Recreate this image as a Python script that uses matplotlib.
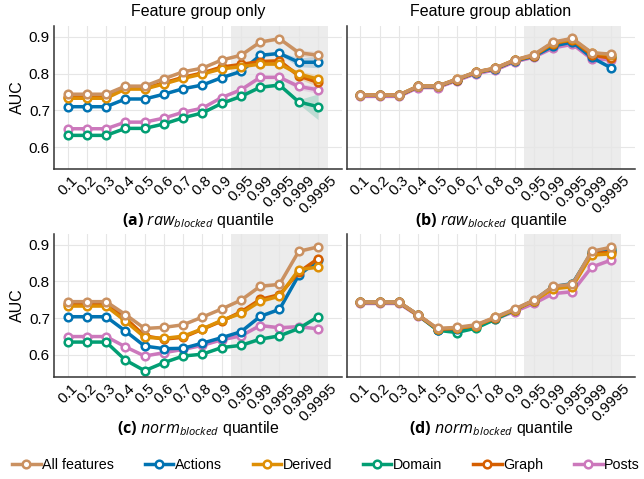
import numpy as np
import matplotlib
matplotlib.use("Agg")
import matplotlib.pyplot as plt

plt.rcParams['font.family'] = ['Liberation Sans', 'DejaVu Sans']
plt.rcParams['mathtext.fontset'] = 'custom'
plt.rcParams['mathtext.rm'] = 'Open Sans'
plt.rcParams['mathtext.it'] = 'Open Sans:italic'
plt.rcParams['mathtext.bf'] = 'Open Sans:bold'

quantiles = ["0.1", "0.2", "0.3", "0.4", "0.5", "0.6", "0.7", "0.8", "0.9",
             "0.95", "0.99", "0.995", "0.999", "0.9995"]
groups = ["All features", "Actions", "Derived", "Domain", "Graph", "Posts"]
colors = ["#ca9161", "#0173b2", "#de8f05", "#029e73", "#d55e00", "#cc78bc"]

# (a) raw, feature group only
raw_only_all = [0.744, 0.744, 0.744, 0.766, 0.766, 0.786, 0.805, 0.815, 0.837, 0.850, 0.886, 0.895, 0.857, 0.850]
raw_only_actions = [0.710, 0.710, 0.710, 0.731, 0.731, 0.744, 0.759, 0.769, 0.789, 0.806, 0.850, 0.855, 0.831, 0.831]
raw_only_derived = [0.733, 0.733, 0.733, 0.758, 0.758, 0.772, 0.787, 0.799, 0.813, 0.819, 0.826, 0.826, 0.799, 0.785]
raw_only_domain = [0.632, 0.632, 0.632, 0.651, 0.651, 0.663, 0.680, 0.693, 0.719, 0.738, 0.763, 0.769, 0.723, 0.710]
raw_only_graph = [0.736, 0.736, 0.736, 0.760, 0.760, 0.775, 0.790, 0.802, 0.818, 0.825, 0.833, 0.835, 0.794, 0.776]
raw_only_posts = [0.650, 0.650, 0.650, 0.668, 0.668, 0.679, 0.695, 0.706, 0.735, 0.756, 0.790, 0.790, 0.765, 0.756]

# (b) raw, feature group ablation
raw_abl_all = [0.742, 0.742, 0.742, 0.766, 0.766, 0.785, 0.805, 0.815, 0.837, 0.852, 0.886, 0.896, 0.857, 0.853]
raw_abl_actions = [0.741, 0.741, 0.741, 0.765, 0.765, 0.784, 0.803, 0.813, 0.835, 0.847, 0.875, 0.886, 0.844, 0.816]
raw_abl_derived = [0.742, 0.742, 0.742, 0.766, 0.766, 0.785, 0.804, 0.815, 0.837, 0.850, 0.884, 0.893, 0.856, 0.852]
raw_abl_domain = [0.741, 0.741, 0.741, 0.765, 0.765, 0.784, 0.804, 0.814, 0.836, 0.849, 0.882, 0.891, 0.853, 0.845]
raw_abl_graph = [0.741, 0.741, 0.741, 0.765, 0.765, 0.784, 0.804, 0.814, 0.836, 0.849, 0.882, 0.892, 0.851, 0.842]
raw_abl_posts = [0.738, 0.738, 0.738, 0.762, 0.762, 0.781, 0.800, 0.810, 0.832, 0.845, 0.870, 0.880, 0.840, 0.838]

# (c) norm, feature group only
norm_only_all = [0.745, 0.745, 0.745, 0.710, 0.672, 0.675, 0.682, 0.703, 0.725, 0.749, 0.787, 0.792, 0.882, 0.894]
norm_only_actions = [0.704, 0.704, 0.704, 0.665, 0.624, 0.617, 0.618, 0.632, 0.647, 0.663, 0.705, 0.724, 0.817, 0.857]
norm_only_derived = [0.733, 0.733, 0.733, 0.692, 0.648, 0.645, 0.651, 0.671, 0.694, 0.713, 0.746, 0.760, 0.832, 0.839]
norm_only_domain = [0.635, 0.635, 0.635, 0.586, 0.557, 0.579, 0.597, 0.602, 0.620, 0.626, 0.643, 0.652, 0.672, 0.704]
norm_only_graph = [0.738, 0.738, 0.738, 0.700, 0.652, 0.643, 0.648, 0.670, 0.692, 0.717, 0.751, 0.764, 0.825, 0.862]
norm_only_posts = [0.650, 0.650, 0.650, 0.622, 0.597, 0.606, 0.615, 0.626, 0.641, 0.652, 0.680, 0.674, 0.677, 0.671]

# (d) norm, feature group ablation
norm_abl_all = [0.744, 0.744, 0.744, 0.709, 0.672, 0.675, 0.682, 0.703, 0.725, 0.749, 0.787, 0.792, 0.882, 0.893]
norm_abl_actions = [0.743, 0.743, 0.743, 0.708, 0.669, 0.671, 0.679, 0.701, 0.723, 0.748, 0.786, 0.794, 0.877, 0.884]
norm_abl_derived = [0.743, 0.743, 0.743, 0.708, 0.671, 0.673, 0.680, 0.702, 0.723, 0.747, 0.780, 0.786, 0.872, 0.875]
norm_abl_domain = [0.743, 0.743, 0.743, 0.708, 0.667, 0.661, 0.673, 0.697, 0.722, 0.748, 0.785, 0.792, 0.880, 0.888]
norm_abl_graph = [0.743, 0.743, 0.743, 0.708, 0.670, 0.672, 0.680, 0.701, 0.723, 0.748, 0.783, 0.789, 0.875, 0.880]
norm_abl_posts = [0.740, 0.740, 0.740, 0.706, 0.669, 0.671, 0.678, 0.698, 0.718, 0.740, 0.767, 0.772, 0.839, 0.858]

# rough half-widths of the confidence bands at 0.999 and 0.9995 (panel a)
band_a_999 = [0.008, 0.012, 0.008, 0.006, 0.008, 0.008]
band_a_9995 = [0.010, 0.015, 0.012, 0.035, 0.012, 0.010]

panels = [
    ([raw_only_all, raw_only_actions, raw_only_derived, raw_only_domain, raw_only_graph, raw_only_posts],
     r"$\mathbf{(a)}$ $\mathit{raw}_{\mathit{blocked}}$ quantile", "Feature group only"),
    ([raw_abl_all, raw_abl_actions, raw_abl_derived, raw_abl_domain, raw_abl_graph, raw_abl_posts],
     r"$\mathbf{(b)}$ $\mathit{raw}_{\mathit{blocked}}$ quantile", "Feature group ablation"),
    ([norm_only_all, norm_only_actions, norm_only_derived, norm_only_domain, norm_only_graph, norm_only_posts],
     r"$\mathbf{(c)}$ $\mathit{norm}_{\mathit{blocked}}$ quantile", None),
    ([norm_abl_all, norm_abl_actions, norm_abl_derived, norm_abl_domain, norm_abl_graph, norm_abl_posts],
     r"$\mathbf{(d)}$ $\mathit{norm}_{\mathit{blocked}}$ quantile", None),
]

fig, axes = plt.subplots(2, 2, figsize=(6.44, 4.79), dpi=100, sharey=True)
fig.subplots_adjust(left=0.084, right=0.986, top=0.946, bottom=0.213, wspace=0.017, hspace=0.45)

x = np.arange(len(quantiles))
for i, (ax, (series, caption, title)) in enumerate(zip(axes.flat, panels)):
    ax.axvspan(8.5, 13.5, color="#ececec", zorder=0, lw=0)
    # "All features" ends on top
    order = [5, 3, 1, 4, 2, 0]
    for k in order:
        y = np.array(series[k])
        hw = np.full(len(y), 0.004)
        hw[:9] = 0.002
        if i == 0:
            hw[12] = band_a_999[k]
            hw[13] = band_a_9995[k]
        ax.fill_between(x, y - hw, y + hw, color=colors[k], alpha=0.2, lw=0, zorder=1)
        ax.plot(x, y, color=colors[k], lw=2.5, marker="o", ms=5.5, mfc="white",
                mec=colors[k], mew=1.8, label=groups[k], zorder=2)
    ax.set_xlim(-0.7, 14.25)
    ax.set_ylim(0.54, 0.93)
    ax.set_xticks(x)
    ax.set_xticklabels(quantiles, rotation=45, fontsize=10.5)
    ax.set_yticks([0.6, 0.7, 0.8, 0.9])
    ax.tick_params(length=0, labelsize=11, pad=3)
    ax.grid(True, color="#e6e6e6", lw=0.8)
    ax.set_axisbelow(True)
    for s in ["top", "right"]:
        ax.spines[s].set_visible(False)
    for s in ["left", "bottom"]:
        ax.spines[s].set_color("#333333")
        ax.spines[s].set_linewidth(1.1)
    if i % 2 == 0:
        ax.set_ylabel("AUC", fontsize=11.5, labelpad=3)
    if title:
        ax.set_title(title, fontsize=11.5, pad=7)
    ax.text(0.5, -0.36, caption, transform=ax.transAxes, ha="center", va="center", fontsize=11.5)

handles, labels = axes[0, 0].get_legend_handles_labels()
lookup = dict(zip(labels, handles))
fig.legend([lookup[g] for g in groups], groups, loc="center", bbox_to_anchor=(0.506, 0.03),
           ncol=6, frameon=False, fontsize=10.3, handlelength=2.0, handletextpad=0.1,
           columnspacing=2.15)

fig.savefig("out.png", dpi=100)
